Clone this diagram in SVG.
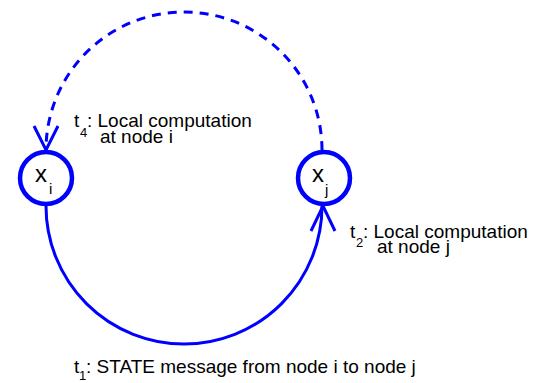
<svg xmlns="http://www.w3.org/2000/svg" width="544" height="383" viewBox="0 0 544 383">
<style>
text { font-family: "Liberation Sans", Arial, sans-serif; fill: #000; }
.lbl { font-size: 19px; }
.sub { font-size: 13px; }
.nx { font-size: 24px; }
.ns { font-size: 15px; }
.node circle { fill: #fff; stroke: #0000ff; stroke-width: 4.5; }
.edge { fill: none; stroke: #0000ff; stroke-width: 3; }
.dash { stroke-dasharray: 9 7; }
</style>
<rect width="544" height="383" fill="#fff"/>
<g id="connectors">
  <path class="edge" d="M46 206 A138 138 0 0 0 322 206"/>
  <path class="edge" d="M311 231 L323 206 L335 231"/>
  <path class="edge dash" d="M322 150 A138 138 0 0 0 46 150"/>
  <path class="edge" d="M34 126 L46 150 L58 126"/>
</g>
<g id="node-i" class="node">
  <circle cx="46" cy="178" r="26"/>
  <text class="nx" x="35" y="182">x<tspan class="ns" x="49" y="194">i</tspan></text>
</g>
<g id="node-j" class="node">
  <circle cx="324" cy="178" r="26"/>
  <text class="nx" x="312" y="182">x<tspan class="ns" x="325" y="195">j</tspan></text>
</g>
<g id="label-t4">
  <text class="lbl" x="74" y="127">t<tspan class="sub" x="80" y="137">4</tspan><tspan x="87" y="127">: Local computation</tspan><tspan x="100" y="143">at node i</tspan></text>
</g>
<g id="label-t2">
  <text class="lbl" x="350" y="238">t<tspan class="sub" x="356" y="247">2</tspan><tspan x="363" y="238">: Local computation</tspan><tspan x="377" y="253">at node j</tspan></text>
</g>
<g id="label-t1">
  <text class="lbl" x="74" y="373">t<tspan class="sub" x="79" y="380">1</tspan><tspan x="86" y="373">: STATE message from node i to node j</tspan></text>
</g>
</svg>
